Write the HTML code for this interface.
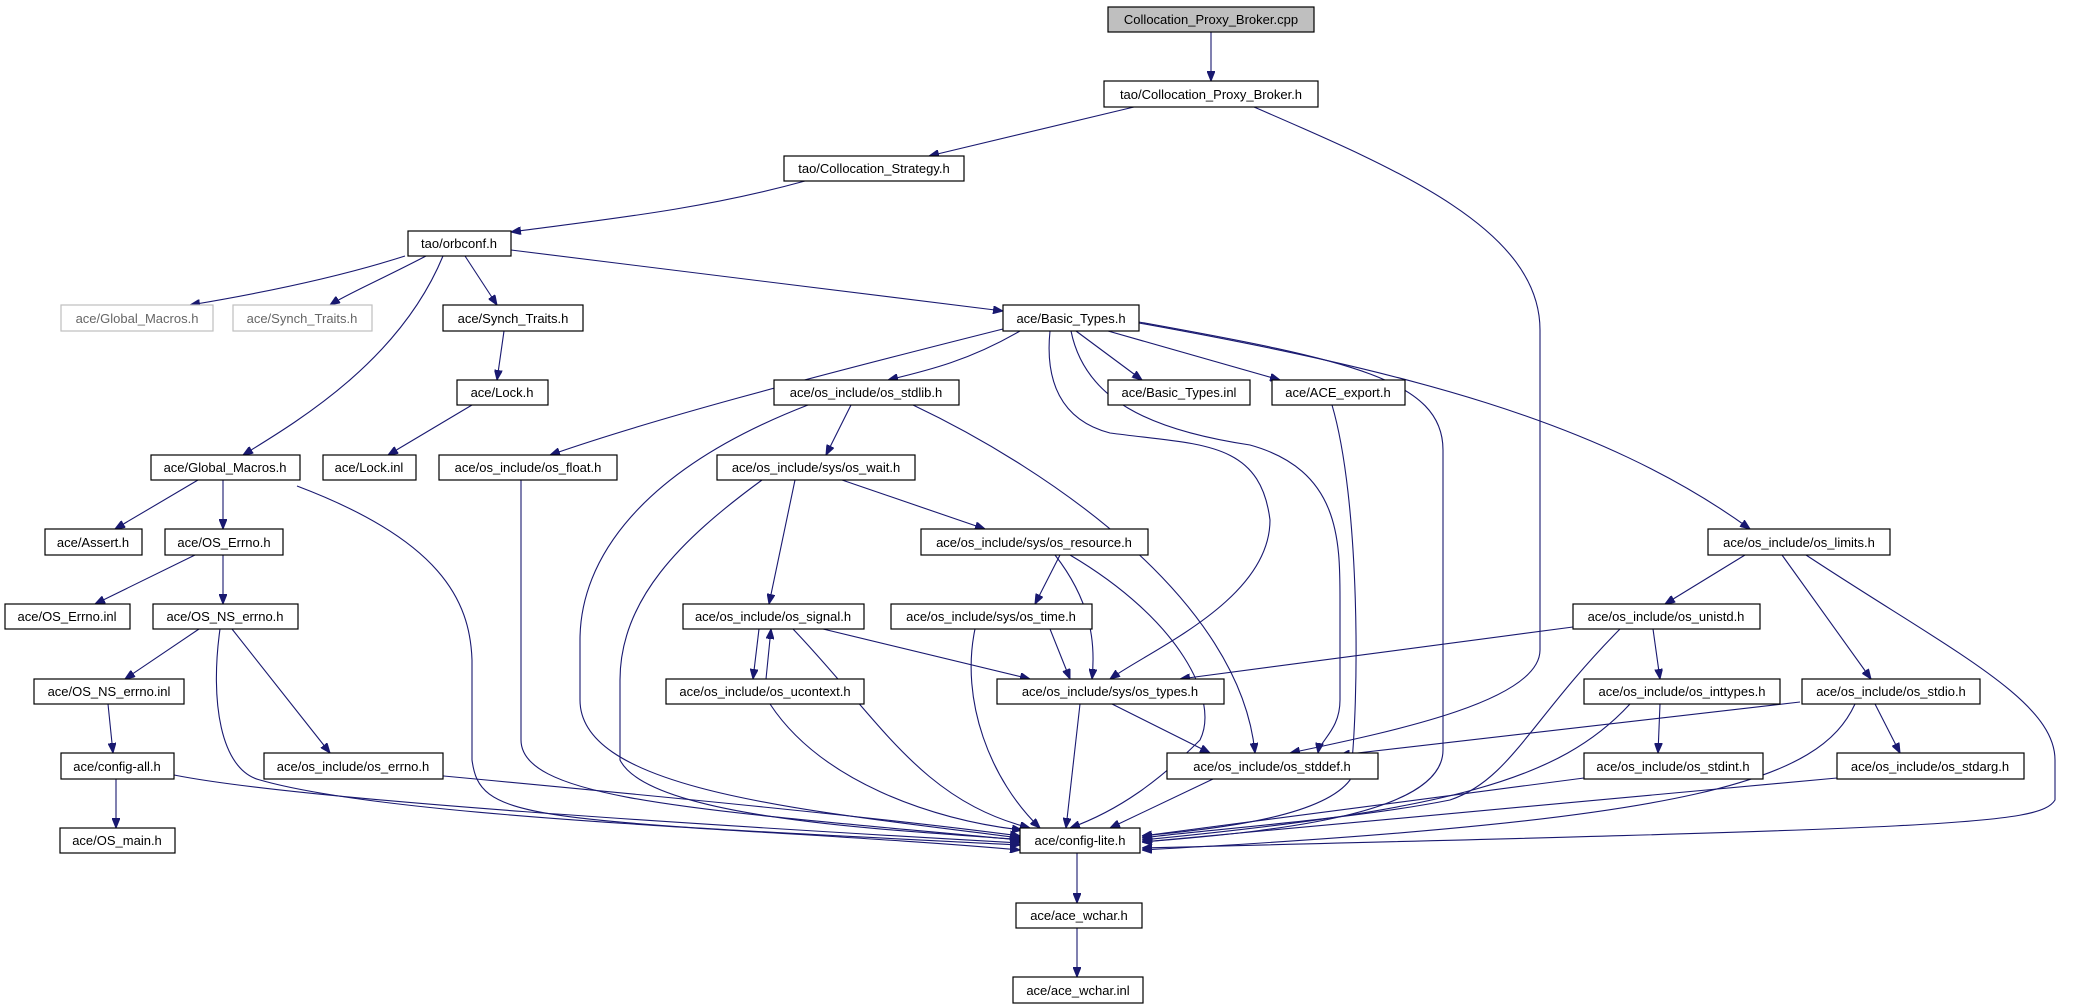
<!DOCTYPE html>
<html><head><meta charset="utf-8"><style>
html,body{margin:0;padding:0;background:#fff;}
svg{display:block}
text{font-family:"Liberation Sans",sans-serif;font-size:13px;fill:#000}
.e{fill:none;stroke:#191970;stroke-width:1.1}
.n rect{fill:#fff;stroke:#000;stroke-width:1.2}
.g rect{fill:#fff;stroke:#bfbfbf;stroke-width:1.2}
</style></head><body>
<svg width="2100" height="1008" viewBox="0 0 2100 1008" xmlns="http://www.w3.org/2000/svg">
<defs><marker id="a" markerWidth="10" markerHeight="8" refX="10" refY="4" orient="auto" markerUnits="userSpaceOnUse"><path d="M0,0 L10,4 L0,8 z" fill="#191970" stroke="#191970"/></marker></defs>
<g class="e" marker-end="url(#a)">
<path d="M1211,32 L1211,81"/>
<path d="M1134,107 L929,156"/>
<path d="M1254,107 C1400,170 1540,230 1540,330 L1540,650 C1540,700 1400,730 1290,753"/>
<path d="M805,181 C700,210 600,220 511,232"/>
<path d="M405,256 C330,280 250,295 190,305"/>
<path d="M426,256 C380,280 345,295 330,305"/>
<path d="M465,256 L497,305"/>
<path d="M511,250 L1003,311"/>
<path d="M443,256 C400,360 300,420 243,455"/>
<path d="M504,331 L497,380"/>
<path d="M472,405 L388,455"/>
<path d="M1003,329 C800,380 650,420 550,455"/>
<path d="M1020,331 C970,360 930,370 888,380"/>
<path d="M1076,331 L1142,380"/>
<path d="M1108,331 L1280,380"/>
<path d="M1139,323 C1400,370 1600,420 1750,529"/>
<path d="M1139,322 C1350,360 1443,380 1443,450 L1443,750 C1443,810 1300,830 1142,842"/>
<path d="M1071,331 C1085,400 1150,430 1250,445 C1340,470 1340,540 1340,600 L1340,700 C1340,730 1320,740 1318,753"/>
<path d="M1050,331 C1045,380 1060,420 1110,433 C1200,445 1260,440 1270,520 C1270,600 1150,650 1110,679"/>
<path d="M808,405 C640,470 580,560 580,640 L580,700 C580,790 800,810 1020,838"/>
<path d="M851,405 L826,455"/>
<path d="M913,405 C1050,470 1240,600 1255,753"/>
<path d="M1332,405 C1360,500 1360,700 1350,780 C1320,820 1200,830 1142,836"/>
<path d="M198,480 L115,529"/>
<path d="M223,480 L223,529"/>
<path d="M297,486 C440,540 470,600 472,660 L472,760 C480,820 520,820 1020,845"/>
<path d="M521,480 L521,740 C521,800 700,810 1020,840"/>
<path d="M762,480 C680,540 620,600 620,680 L620,760 C650,820 900,830 1025,840"/>
<path d="M795,480 L769,604"/>
<path d="M842,480 L985,529"/>
<path d="M195,555 L95,604"/>
<path d="M223,555 L223,604"/>
<path d="M1060,555 L1035,604"/>
<path d="M1055,555 C1090,600 1096,640 1092,679"/>
<path d="M1070,555 C1180,620 1220,700 1200,740 C1160,780 1120,810 1070,828"/>
<path d="M1745,555 L1665,604"/>
<path d="M1782,555 L1871,679"/>
<path d="M1806,555 C1950,650 2055,700 2055,760 L2055,800 C2040,825 1950,828 1142,848"/>
<path d="M199,629 L125,679"/>
<path d="M232,629 L330,753"/>
<path d="M220,629 C210,700 220,770 260,780 C400,820 800,830 1020,850"/>
<path d="M759,629 L753,679"/>
<path d="M766,679 L771,629"/>
<path d="M823,629 L1030,679"/>
<path d="M793,629 C880,720 920,800 1030,828"/>
<path d="M770,704 C820,780 930,820 1022,830"/>
<path d="M1050,629 L1070,679"/>
<path d="M975,629 C960,700 990,780 1040,828"/>
<path d="M1573,627 L1180,679"/>
<path d="M1653,629 L1660,679"/>
<path d="M1620,629 C1530,720 1510,780 1450,800 C1350,820 1200,830 1142,838"/>
<path d="M108,704 L113,753"/>
<path d="M116,779 L116,828"/>
<path d="M174,775 C300,800 700,825 1020,843"/>
<path d="M1112,704 L1210,753"/>
<path d="M1080,704 L1066,828"/>
<path d="M1660,704 L1658,753"/>
<path d="M1630,704 C1560,780 1450,810 1142,840"/>
<path d="M1800,702 L1340,755"/>
<path d="M1875,704 L1900,753"/>
<path d="M1855,704 C1820,780 1700,820 1142,850"/>
<path d="M433,775 C700,800 900,820 1020,836"/>
<path d="M1213,779 L1110,828"/>
<path d="M1584,778 L1142,836"/>
<path d="M1837,778 L1142,842"/>
<path d="M1077,853 L1077,903"/>
<path d="M1077,928 L1077,977"/>
</g>
<g class="n">
<rect x="1108" y="7" width="206" height="25" style="fill:#bfbfbf"/><text x="1211" y="24" text-anchor="middle">Collocation_Proxy_Broker.cpp</text>
<rect x="1104" y="81" width="214" height="26"/><text x="1211" y="99" text-anchor="middle">tao/Collocation_Proxy_Broker.h</text>
<rect x="784" y="156" width="180" height="25"/><text x="874" y="173" text-anchor="middle">tao/Collocation_Strategy.h</text>
<rect x="408" y="231" width="103" height="25"/><text x="459" y="248" text-anchor="middle">tao/orbconf.h</text>
</g>
<g class="g">
<rect x="61" y="305" width="152" height="26"/><text x="137" y="323" text-anchor="middle" style="fill:#666">ace/Global_Macros.h</text>
<rect x="233" y="305" width="139" height="26"/><text x="302" y="323" text-anchor="middle" style="fill:#666">ace/Synch_Traits.h</text>
</g>
<g class="n">
<rect x="443" y="305" width="140" height="26"/><text x="513" y="323" text-anchor="middle">ace/Synch_Traits.h</text>
<rect x="1003" y="305" width="136" height="26"/><text x="1071" y="323" text-anchor="middle">ace/Basic_Types.h</text>
<rect x="457" y="380" width="91" height="25"/><text x="502" y="397" text-anchor="middle">ace/Lock.h</text>
<rect x="774" y="380" width="185" height="25"/><text x="866" y="397" text-anchor="middle">ace/os_include/os_stdlib.h</text>
<rect x="1108" y="380" width="142" height="25"/><text x="1179" y="397" text-anchor="middle">ace/Basic_Types.inl</text>
<rect x="1272" y="380" width="133" height="25"/><text x="1338" y="397" text-anchor="middle">ace/ACE_export.h</text>
<rect x="151" y="455" width="149" height="25"/><text x="225" y="472" text-anchor="middle">ace/Global_Macros.h</text>
<rect x="323" y="455" width="93" height="25"/><text x="369" y="472" text-anchor="middle">ace/Lock.inl</text>
<rect x="439" y="455" width="178" height="25"/><text x="528" y="472" text-anchor="middle">ace/os_include/os_float.h</text>
<rect x="717" y="455" width="198" height="25"/><text x="816" y="472" text-anchor="middle">ace/os_include/sys/os_wait.h</text>
<rect x="45" y="529" width="97" height="26"/><text x="93" y="547" text-anchor="middle">ace/Assert.h</text>
<rect x="165" y="529" width="118" height="26"/><text x="224" y="547" text-anchor="middle">ace/OS_Errno.h</text>
<rect x="921" y="529" width="227" height="26"/><text x="1034" y="547" text-anchor="middle">ace/os_include/sys/os_resource.h</text>
<rect x="1708" y="529" width="182" height="26"/><text x="1799" y="547" text-anchor="middle">ace/os_include/os_limits.h</text>
<rect x="5" y="604" width="125" height="25"/><text x="67" y="621" text-anchor="middle">ace/OS_Errno.inl</text>
<rect x="153" y="604" width="145" height="25"/><text x="225" y="621" text-anchor="middle">ace/OS_NS_errno.h</text>
<rect x="683" y="604" width="181" height="25"/><text x="773" y="621" text-anchor="middle">ace/os_include/os_signal.h</text>
<rect x="891" y="604" width="201" height="25"/><text x="991" y="621" text-anchor="middle">ace/os_include/sys/os_time.h</text>
<rect x="1573" y="604" width="187" height="25"/><text x="1666" y="621" text-anchor="middle">ace/os_include/os_unistd.h</text>
<rect x="34" y="679" width="150" height="25"/><text x="109" y="696" text-anchor="middle">ace/OS_NS_errno.inl</text>
<rect x="666" y="679" width="198" height="25"/><text x="765" y="696" text-anchor="middle">ace/os_include/os_ucontext.h</text>
<rect x="997" y="679" width="227" height="25"/><text x="1110" y="696" text-anchor="middle">ace/os_include/sys/os_types.h</text>
<rect x="1584" y="679" width="196" height="25"/><text x="1682" y="696" text-anchor="middle">ace/os_include/os_inttypes.h</text>
<rect x="1802" y="679" width="178" height="25"/><text x="1891" y="696" text-anchor="middle">ace/os_include/os_stdio.h</text>
<rect x="61" y="753" width="113" height="26"/><text x="117" y="771" text-anchor="middle">ace/config-all.h</text>
<rect x="264" y="753" width="179" height="26"/><text x="353" y="771" text-anchor="middle">ace/os_include/os_errno.h</text>
<rect x="1167" y="753" width="211" height="26"/><text x="1272" y="771" text-anchor="middle">ace/os_include/os_stddef.h</text>
<rect x="1584" y="753" width="179" height="26"/><text x="1673" y="771" text-anchor="middle">ace/os_include/os_stdint.h</text>
<rect x="1837" y="753" width="187" height="26"/><text x="1930" y="771" text-anchor="middle">ace/os_include/os_stdarg.h</text>
<rect x="60" y="828" width="115" height="25"/><text x="117" y="845" text-anchor="middle">ace/OS_main.h</text>
<rect x="1020" y="828" width="120" height="25"/><text x="1080" y="845" text-anchor="middle">ace/config-lite.h</text>
<rect x="1016" y="903" width="126" height="25"/><text x="1079" y="920" text-anchor="middle">ace/ace_wchar.h</text>
<rect x="1013" y="977" width="130" height="26"/><text x="1078" y="995" text-anchor="middle">ace/ace_wchar.inl</text>
</g>
</svg>
</body></html>
